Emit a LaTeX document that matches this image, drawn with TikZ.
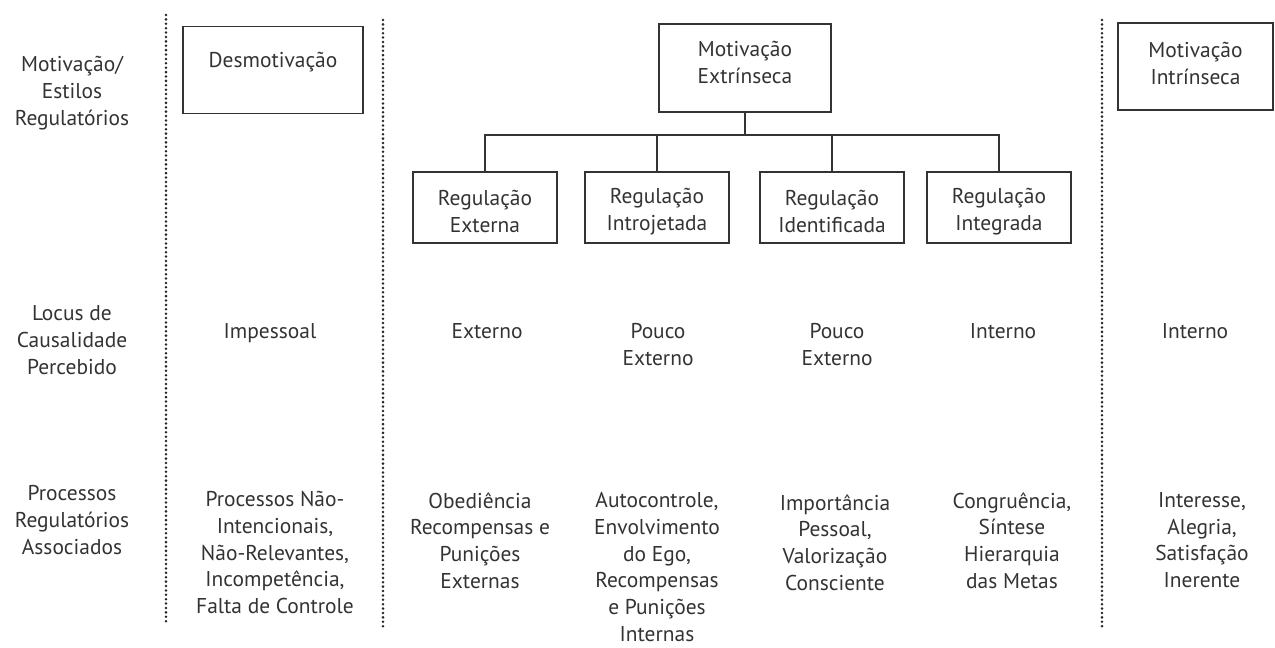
\documentclass[tikz,border=0pt]{standalone}
\usepackage{fontspec}
\setmainfont{PT Sans}
\usepackage{tikz}
\usetikzlibrary{calc}
\definecolor{cinza}{gray}{0.2}
\tikzset{
	texto/.style={text=cinza, align=center, inner sep=0pt, font=\fontsize{12.2}{15.2}\selectfont},
	caixa/.style={texto, draw=cinza, line width=1.1pt},
	regcaixa/.style={caixa, minimum width=2.88cm, minimum height=1.42cm},
	ligacao/.style={draw=cinza, line width=1.1pt},
	pontilhado/.style={black!85, line width=1.6pt, line cap=round, dash pattern=on 0pt off 2.5pt}
}
\def\separador(#1:#2:#3){\draw[pontilhado] (#1,#2) -- (#1,#3);}
\def\abaixo#1{\rule[-#1]{0pt}{#1}}
\def\acima#1{\rule{0pt}{#1}}

\begin{document}
\begin{tikzpicture}[x=0.02cm, y=-0.02cm]
				\useasboundingbox (0,0) rectangle (1275,647);
				
				\separador(166:15:623)
				\separador(383:20:627)
				\separador(1102:20:628)
				
				\node[texto] (lestilos) at (72,93) {Motivação/\\Estilos\\Regulatórios};
				\node[texto] (llocus) at (72,340) {Locus de\\Causalidade\\Percebido};
				\node[texto] (lprocessos) at (72,520) {Processos\\Regulatórios\\Associados};
				
				\node[caixa, minimum width=3.6cm, minimum height=1.74cm] (desm) at (273,70) {Desmotivação\abaixo{11pt}};
				\node[caixa, minimum width=3.44cm, minimum height=1.76cm] (mext) at (745,68) {Motivação\\Extrínseca\abaixo{6.3pt}};
				\node[caixa, minimum width=3.1cm, minimum height=1.74cm] (mint) at (1195.5,66.5) {Motivação\\Intrínseca\abaixo{3.4pt}};
				
				\node[regcaixa] (rext) at (485,207.5) {\acima{13.5pt}Regulação\\Externa};
				\node[regcaixa] (rintro) at (657,207.5) {\acima{13.5pt}Regulação\\Introjetada};
				\node[regcaixa] (rident) at (832,207.5) {\acima{13.5pt}Regulação\\Identificada};
				\node[regcaixa] (rinteg) at (999,207.5) {\acima{13.5pt}Regulação\\Integrada};
				
				\coordinate (barra) at (745,135);
				\draw[ligacao] (mext.south) -- (barra);
				\foreach \r in {rext,rintro,rident,rinteg}
					\draw[ligacao] (\r.north) |- (barra);
				
				% locus de causalidade
				\node[texto, anchor=north] (impessoal) at (270,323) {Impessoal};
				\node[texto, anchor=north] (externo) at (487,323) {Externo};
				\node[texto, anchor=north] (poucoa) at (658,323) {Pouco\\Externo};
				\node[texto, anchor=north] (poucob) at (837,323) {Pouco\\Externo};
				\node[texto, anchor=north] (internoa) at (1003,323) {Interno};
				\node[texto, anchor=north] (internob) at (1195,323) {Interno};
				
				% processos regulatorios
				\node[texto, anchor=north] (naoint) at (275,491) {Processos Não-\\Intencionais,\\Não-Relevantes,\\Incompetência,\\Falta de Controle};
				\node[texto, anchor=north] (obediencia) at (480,492) {Obediência\\Recompensas e\\Punições\\Externas};
				\node[texto, anchor=north] (autocontrole) at (657,492) {Autocontrole,\\Envolvimento\\do Ego,\\Recompensas\\e Punições\\Internas};
				\node[texto, anchor=north] (importancia) at (835,494) {Importância\\Pessoal,\\Valorização\\Consciente};
				\node[texto, anchor=north] (congruencia) at (1012,492) {Congruência,\\Síntese\\Hierarquia\\das Metas};
				\node[texto, anchor=north] (interesse) at (1202,492) {Interesse,\\Alegria,\\Satisfação\\Inerente};
			\end{tikzpicture}
\end{document}
